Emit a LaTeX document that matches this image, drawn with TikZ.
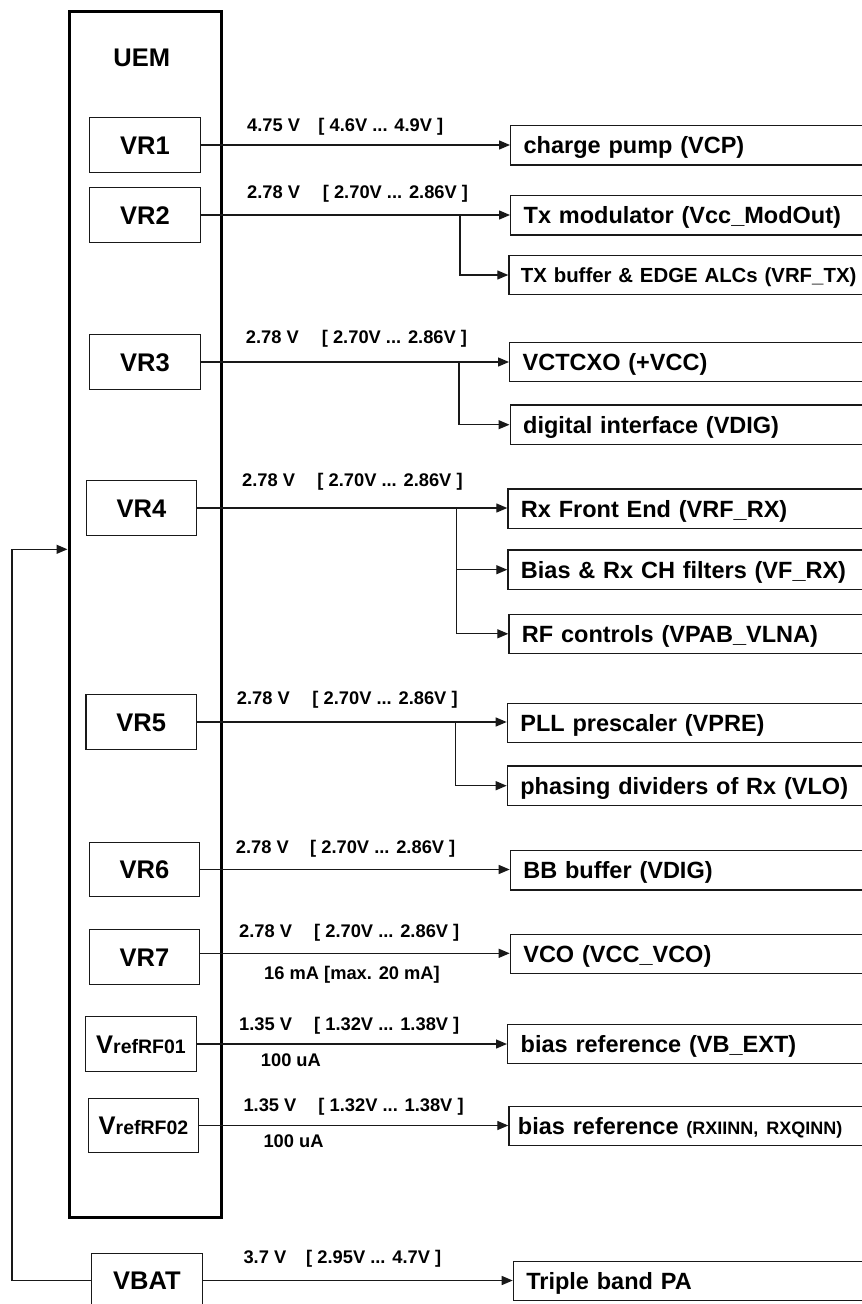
\documentclass[tikz,border=0pt]{standalone}
\usepackage{fontspec}
\setmainfont{Liberation Sans}
\usetikzlibrary{arrows.meta}
\begin{document}
\begin{tikzpicture}[x=1pt,y=-1pt,
  ln/.style={line width=1.3pt, draw=black!90},
  arr/.style={ln, -{Triangle[length=11pt,width=9pt]}},
  reg/.style={draw=black!90, line width=1.3pt, minimum width=110.5pt, minimum height=54.5pt, inner sep=0pt,
    font=\fontsize{25.5}{30}\selectfont\bfseries, text height=18.3pt, text depth=0pt},
  load/.style={draw=black!90, line width=1.3pt, anchor=west, minimum height=39.3pt, inner xsep=13pt, inner ysep=0pt,
    text width=380pt, align=left, font=\fontsize{23.5}{28}\selectfont\bfseries, text height=16.8pt, text depth=0pt},
  lbl/.style={anchor=base west, inner sep=0pt, font=\fontsize{18.3}{22}\selectfont\bfseries},
]
\useasboundingbox (0,0) rectangle (862,1304);

% UEM block
\node[draw=black, line width=3pt, minimum width=152pt, minimum height=1206pt, inner sep=0pt] (uem) at (145,614) {};
\node[anchor=base, inner sep=0pt, font=\fontsize{25.5}{30}\selectfont\bfseries] (uemt) at (141.7,66.7) {UEM};

% regulators
\node[reg] (VR1) at (145,145) {VR1};
\node[reg] (VR2) at (145,215) {VR2};
\node[reg] (VR3) at (145,362) {VR3};
\node[reg] (VR4) at (141.5,508) {VR4};
\node[reg] (VR5) at (141.2,722) {VR5};
\node[reg] (VR6) at (144.5,869.5) {VR6};
\node[reg] (VR7) at (144.5,957) {VR7};
\node[reg] (rf1) at (141,1044) {V{\fontsize{19.5}{22}\selectfont refRF01}};
\node[reg] (rf2) at (143.5,1125.5) {V{\fontsize{19.5}{22}\selectfont refRF02}};
\node[reg] (vbat) at (147,1280.5) {VBAT};

% loads
\node[load] (cp) at (510,145.4) {charge pump (VCP)};
\node[load] (txm) at (510,215.4) {Tx modulator (Vcc\_ModOut)};
\node[load, inner xsep=12pt, font=\fontsize{20.4}{25}\selectfont\bfseries, text height=14.8pt] (txb) at (508.3,275) {TX buffer \& EDGE ALCs (VRF\_TX)};
\node[load] (vct) at (509,362) {VCTCXO (+VCC)};
\node[load] (dig) at (509.5,424.7) {digital interface (VDIG)};
\node[load] (rxf) at (507.3,508.7) {Rx Front End (VRF\_RX)};
\node[load] (bias) at (507.3,569.7) {Bias \& Rx CH filters (VF\_RX)};
\node[load] (rfc) at (508.3,633.8) {RF controls (VPAB\_VLNA)};
\node[load] (pll) at (506.7,722.8) {PLL prescaler (VPRE)};
\node[load] (pha) at (506.7,785.7) {phasing dividers of Rx (VLO)};
\node[load] (bb) at (509.7,870.3) {BB buffer (VDIG)};
\node[load] (vco) at (509.7,954) {VCO (VCC\_VCO)};
\node[load] (vbe) at (507,1043.8) {bias reference (VB\_EXT)};
\node[load, inner xsep=9pt] (rxi) at (508.3,1126) {bias reference {\fontsize{18}{22}\selectfont(RXIINN, RXQINN)}};
\node[load] (tpa) at (512.7,1280.8) {Triple band PA};

% branch columns
\coordinate (k2) at (460,0);
\coordinate (k3) at (459,0);
\coordinate (k4) at (456.7,0);
\coordinate (k5) at (455.7,0);

% connectors
\draw[arr] (VR1.east) -- (VR1.east -| cp.west);
\draw[arr] (VR2.east) -- (VR2.east -| txm.west);
\draw[arr] (VR2.east -| k2) |- (txb.west);
\draw[arr] (VR3.east) -- (VR3.east -| vct.west);
\draw[arr] (VR3.east -| k3) |- (dig.west);
\draw[arr] (VR4.east) -- (VR4.east -| rxf.west);
\draw[arr] (VR4.east -| k4) |- (bias.west);
\draw[arr] (VR4.east -| k4) |- (rfc.west);
\draw[arr] (VR5.east) -- (VR5.east -| pll.west);
\draw[arr] (VR5.east -| k5) |- (pha.west);
\draw[arr] (VR6.east) -- (VR6.east -| bb.west);
\draw[arr] ([yshift=3.7pt]VR7.east) -- ([yshift=3.7pt]VR7.east -| vco.west);
\draw[arr] (rf1.east) -- (rf1.east -| vbe.west);
\draw[arr] (rf2.east) -- (rf2.east -| rxi.west);
\draw[arr] (vbat.east) -- (vbat.east -| tpa.west);

% battery feedback
\coordinate (fb) at (12,549.3);
\draw[arr] (vbat.west) -| (fb) -- (fb -| uem.west);

% labels
\node[lbl] (l1) at (247,131) {4.75 V\hspace{18.4pt}[ 4.6V ... 4.9V ]};
\node[lbl] (l2) at (247,198) {2.78 V\hspace{22.8pt}[ 2.70V ... 2.86V ]};
\node[lbl] (l3) at (245.7,343.5) {2.78 V\hspace{23.1pt}[ 2.70V ... 2.86V ]};
\node[lbl] (l4) at (242,486.7) {2.78 V\hspace{22.4pt}[ 2.70V ... 2.86V ]};
\node[lbl] (l5) at (236.7,704) {2.78 V\hspace{22.7pt}[ 2.70V ... 2.86V ]};
\node[lbl] (l6) at (235.7,853.3) {2.78 V\hspace{21.4pt}[ 2.70V ... 2.86V ]};
\node[lbl] (l7) at (239,937) {2.78 V\hspace{22.1pt}[ 2.70V ... 2.86V ]};
\node[lbl] (l7b) at (264,979.3) {16 mA [max. 20 mA]};
\node[lbl] (l8) at (239,1030.7) {1.35 V\hspace{22.1pt}[ 1.32V ... 1.38V ]};
\node[lbl] (l8b) at (260.7,1066.7) {100 uA};
\node[lbl] (l9) at (243.3,1111.7) {1.35 V\hspace{22.1pt}[ 1.32V ... 1.38V ]};
\node[lbl] (l9b) at (263.3,1147.7) {100 uA};
\node[lbl] (l10) at (243.3,1263.3) {3.7 V\hspace{20pt}[ 2.95V ... 4.7V ]};
\end{tikzpicture}
\end{document}
